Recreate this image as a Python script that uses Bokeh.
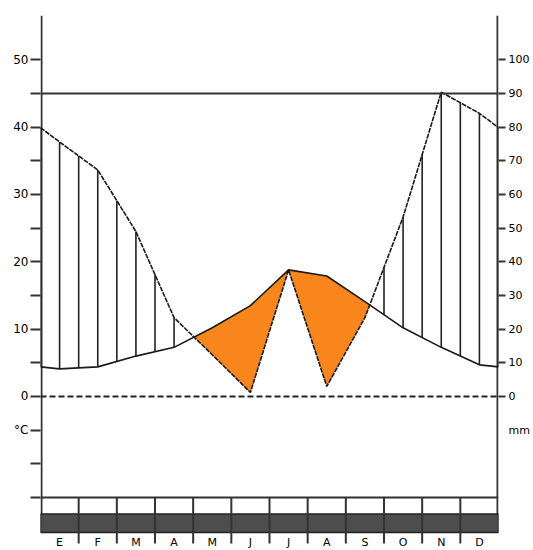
import numpy as np
from bokeh.plotting import figure
from bokeh.models import Range1d, LinearAxis, FixedTicker, Span, LabelSet, ColumnDataSource
from bokeh.core.properties import value
from bokeh.embed import file_html
from bokeh.resources import INLINE

months = ["E", "F", "M", "A", "M", "J", "J", "A", "S", "O", "N", "D"]
temp_c = [4.1, 4.4, 6.0, 7.3, 10.2, 13.5, 18.8, 17.9, 14.1, 10.2, 7.3, 4.7]
precip_mm = [75.6, 67.3, 49.0, 23.4, 12.4, 1.2, 37.6, 3.0, 23.4, 53.3, 90.4, 84.1]
left_ticks = list(range(-15, 51, 5))
left_labels = {v: (str(v) if (v >= 0 and v % 10 == 0) else "") for v in left_ticks}
left_labels[-5] = "°C"
right_ticks = list(range(0, 101, 10))
ref_line_c = 45

# ---- derived series (wrap-around edge values) ----
centers = np.arange(12) + 0.5
edge_t = (temp_c[-1] + temp_c[0]) / 2
edge_p = (precip_mm[-1] + precip_mm[0]) / 2
xs = np.concatenate([[0.0], centers, [12.0]])
ts = np.concatenate([[edge_t], temp_c, [edge_t]])
ps = np.concatenate([[edge_p], precip_mm, [edge_p]]) / 2.0  # mm -> °C scale (1 °C = 2 mm)

W, H = 533, 550
FL, FR, FT = 40, 35, 15
YMAX, YMIN = 56.58, -22.87
AX_BOTTOM = -20.2
p = figure(width=W, height=H, x_range=Range1d(0, 12), y_range=Range1d(YMIN, YMAX),
           output_backend="svg", toolbar_location=None,
           x_axis_location=None, y_axis_location=None,
           min_border_left=FL, min_border_right=FR, min_border_top=FT, min_border_bottom=0)
p.extra_y_ranges = {"mm": Range1d(YMIN * 2, YMAX * 2)}
p.outline_line_color = None
p.background_fill_color = "white"
p.grid.visible = False

AX = "#333333"
FONT = "DejaVu Sans"

ax_l = LinearAxis(ticker=FixedTicker(ticks=left_ticks), major_label_overrides=left_labels,
                  major_tick_out=10, major_tick_in=0, major_label_standoff=2)
ax_l.major_label_text_font_size = "12px"
ax_r = LinearAxis(y_range_name="mm",
                  ticker=FixedTicker(ticks=[-10] + right_ticks, minor_ticks=right_ticks),
                  major_label_overrides={-10: "mm"},
                  major_tick_out=0, major_tick_in=0, minor_tick_out=7, minor_tick_in=0,
                  major_label_standoff=3)
ax_r.major_label_text_font_size = "11px"
for ax in (ax_l, ax_r):
    ax.axis_line_color = None
    ax.major_tick_line_color = AX
    ax.major_tick_line_width = 2
    ax.minor_tick_line_color = AX
    ax.minor_tick_line_width = 2
    ax.major_label_text_font = FONT
    ax.major_label_text_color = "black"
p.add_layout(ax_l, "left")
p.add_layout(ax_r, "right")

# axis spines (stop at the month band, as in the original)
px = 12.0 / (W - FL - FR)
p.segment(x0=[px, 12 - px], y0=[AX_BOTTOM, AX_BOTTOM], x1=[px, 12 - px], y1=[YMAX, YMAX],
          line_color=AX, line_width=2)

# month band at bottom
p.quad(left=0, right=12, bottom=AX_BOTTOM, top=-17.45, fill_color="#4d4d4d", line_color="#222222", line_width=1.5)
bounds = np.arange(1, 12)
p.segment(x0=bounds, y0=-15, x1=bounds, y1=-21.83, line_color=AX, line_width=2)

# arid period fill (temperature above precipitation)
xx = np.linspace(0, 12, 4801)
tt = np.interp(xx, xs, ts)
pp = np.interp(xx, xs, ps)
p.varea(x=xx, y1=pp, y2=np.maximum(pp, tt), fill_color="#F9861C")

# humid period hatching
hx = np.arange(0, 12.001, 0.5)
ht = np.interp(hx, xs, ts)
hp = np.interp(hx, xs, ps)
m = hp > ht
p.segment(x0=hx[m], y0=ht[m], x1=hx[m], y1=hp[m], line_color="#222222", line_width=1.6)

# curves
p.line(xs, ts, line_color="#1a1a1a", line_width=1.6)
p.line(xs, ps, line_color="#1a1a1a", line_width=1.6, line_dash="5 1")

# reference lines
p.add_layout(Span(location=ref_line_c, dimension="width", line_color=AX, line_width=2))
p.add_layout(Span(location=-15, dimension="width", line_color=AX, line_width=2))
p.add_layout(Span(location=0, dimension="width", line_color="#222222", line_width=2, line_dash="6 3"))

# month labels
msrc = ColumnDataSource(dict(x=centers, y=np.full(12, -21.75), t=months))
p.add_layout(LabelSet(x="x", y="y", text="t", source=msrc, text_align="center",
                      text_baseline="middle", text_font=value(FONT), text_font_size="11px",
                      text_color="black"))

open("out.html", "w").write(file_html(p, INLINE))
